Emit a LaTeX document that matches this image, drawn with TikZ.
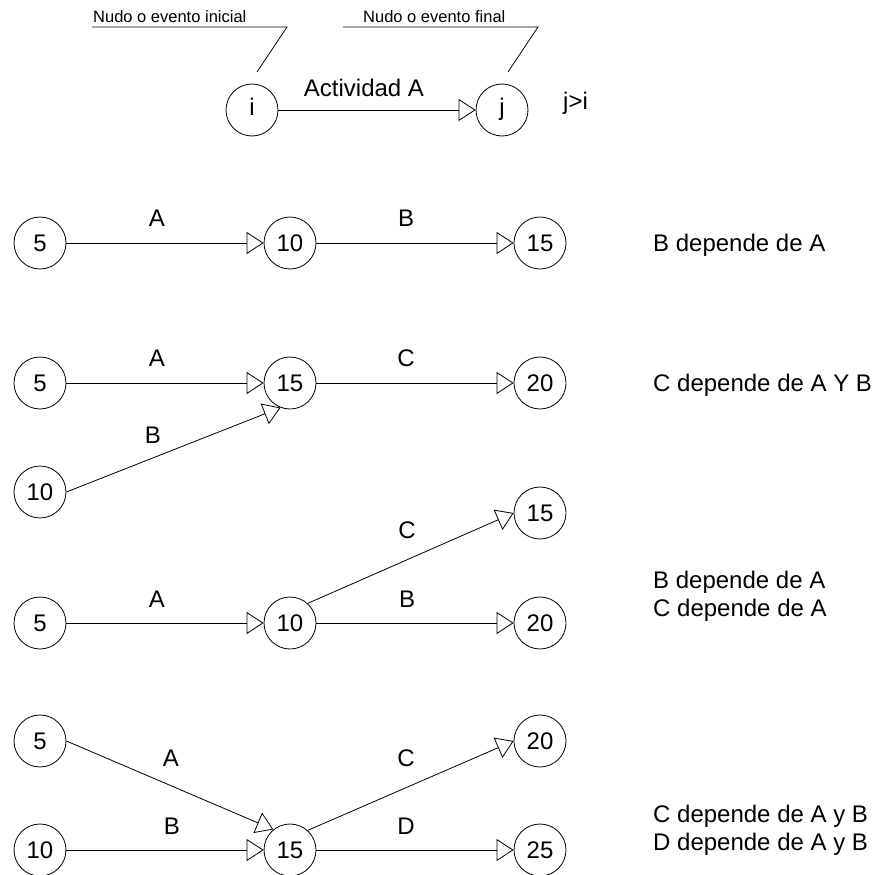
\documentclass[tikz,border=0pt]{standalone}
\usepackage{fontspec}
\setmainfont{Liberation Sans}
\usetikzlibrary{arrows.meta}
\begin{document}
\begin{tikzpicture}[x=1pt,y=-1pt,
  evt/.style={circle,draw,line width=0.8pt,minimum size=52pt,inner sep=0pt,font=\fontsize{24}{28}\selectfont},
  lbl/.style={inner sep=0pt,font=\fontsize{24}{28}\selectfont},
  note/.style={inner sep=0pt,anchor=base west,font=\fontsize{24}{28}\selectfont},
  small/.style={inner sep=0pt,anchor=base west,font=\fontsize{16.5}{19}\selectfont},
  act/.style={line width=0.8pt,-{Triangle[open,length=17pt,width=22pt]}},
  callout/.style={line width=0.8pt}]
\useasboundingbox (0,0) rectangle (878,875);

% ---- top: legend ----
\node[evt,text height=17.2pt,text depth=0pt] (ni) at (252,110) {\raisebox{3pt}{i}};
\node[evt,text height=17.2pt,text depth=0pt] (nj) at (502,110) {\raisebox{3pt}{j}};
\draw[act] (ni.east) -- (nj.west);
\node[lbl] (tact) at (364,88) {Actividad A};
\node[note] (tji) at (563,110) {j>i};
\node[small] (tini) at (93,23) {Nudo o evento inicial};
\node[small] (tfin) at (363,23) {Nudo o evento final};
\coordinate (cl1) at (92,27);
\coordinate (cl2) at (287,27);
\coordinate (cl3) at (257,72);
\coordinate (cr1) at (343,27);
\coordinate (cr2) at (538,27);
\coordinate (cr3) at (508,72);
\draw[callout] (cl1) -- (cl2) -- (cl3);
\draw[callout] (cr1) -- (cr2) -- (cr3);

% ---- row 1 ----
\node[evt] (a5) at (40,243) {5};
\node[evt] (a10) at (290,243) {10};
\node[evt] (a15) at (540,243) {15};
\draw[act] (a5.east) -- (a10.west);
\draw[act] (a10.east) -- (a15.west);
\node[lbl] (aA) at (157,218) {A};
\node[lbl] (aB) at (406,218) {B};
\node[note] (at1) at (653,251.5) {B depende de A};

% ---- row 2 ----
\node[evt] (b5) at (40,383) {5};
\node[evt] (b15) at (290,383) {15};
\node[evt] (b20) at (540,383) {20};
\node[evt] (b10) at (40,492) {10};
\draw[act] (b5.east) -- (b15.west);
\draw[act] (b15.east) -- (b20.west);
\draw[act] (b10.east) -- (b15.249);
\node[lbl] (bA) at (157,358) {A};
\node[lbl] (bC) at (406,358) {C};
\node[lbl] (bB) at (153,435) {B};
\node[note] (bt1) at (653,391.5) {C depende de A Y B};

% ---- row 3 ----
\node[evt] (c15) at (540,513) {15};
\node[evt] (c5) at (40,623) {5};
\node[evt] (c10) at (290,623) {10};
\node[evt] (c20) at (540,623) {20};
\draw[act] (c5.east) -- (c10.west);
\draw[act] (c10.east) -- (c20.west);
\draw[act] (c10.48) -- (c15.west);
\node[lbl] (cC) at (407,530) {C};
\node[lbl] (cA) at (157,599) {A};
\node[lbl] (cB) at (407,599) {B};
\node[note] (ct1) at (653,588) {B depende de A};
\node[note] (ct2) at (653,616) {C depende de A};

% ---- row 4 ----
\node[evt] (d5) at (40,741) {5};
\node[evt] (d20) at (540,741) {20};
\node[evt] (d10) at (40,850) {10};
\node[evt] (d15) at (290,850) {15};
\node[evt] (d25) at (540,850) {25};
\draw[act] (d5.east) -- (d15.129);
\draw[act] (d10.east) -- (d15.west);
\draw[act] (d15.48) -- (d20.west);
\draw[act] (d15.east) -- (d25.west);
\node[lbl] (dA) at (171,758) {A};
\node[lbl] (dC) at (406,758) {C};
\node[lbl] (dB) at (172,826) {B};
\node[lbl] (dD) at (406,826) {D};
\node[note] (dt1) at (653,822) {C depende de A y B};
\node[note] (dt2) at (653,850) {D depende de A y B};
\end{tikzpicture}
\end{document}
